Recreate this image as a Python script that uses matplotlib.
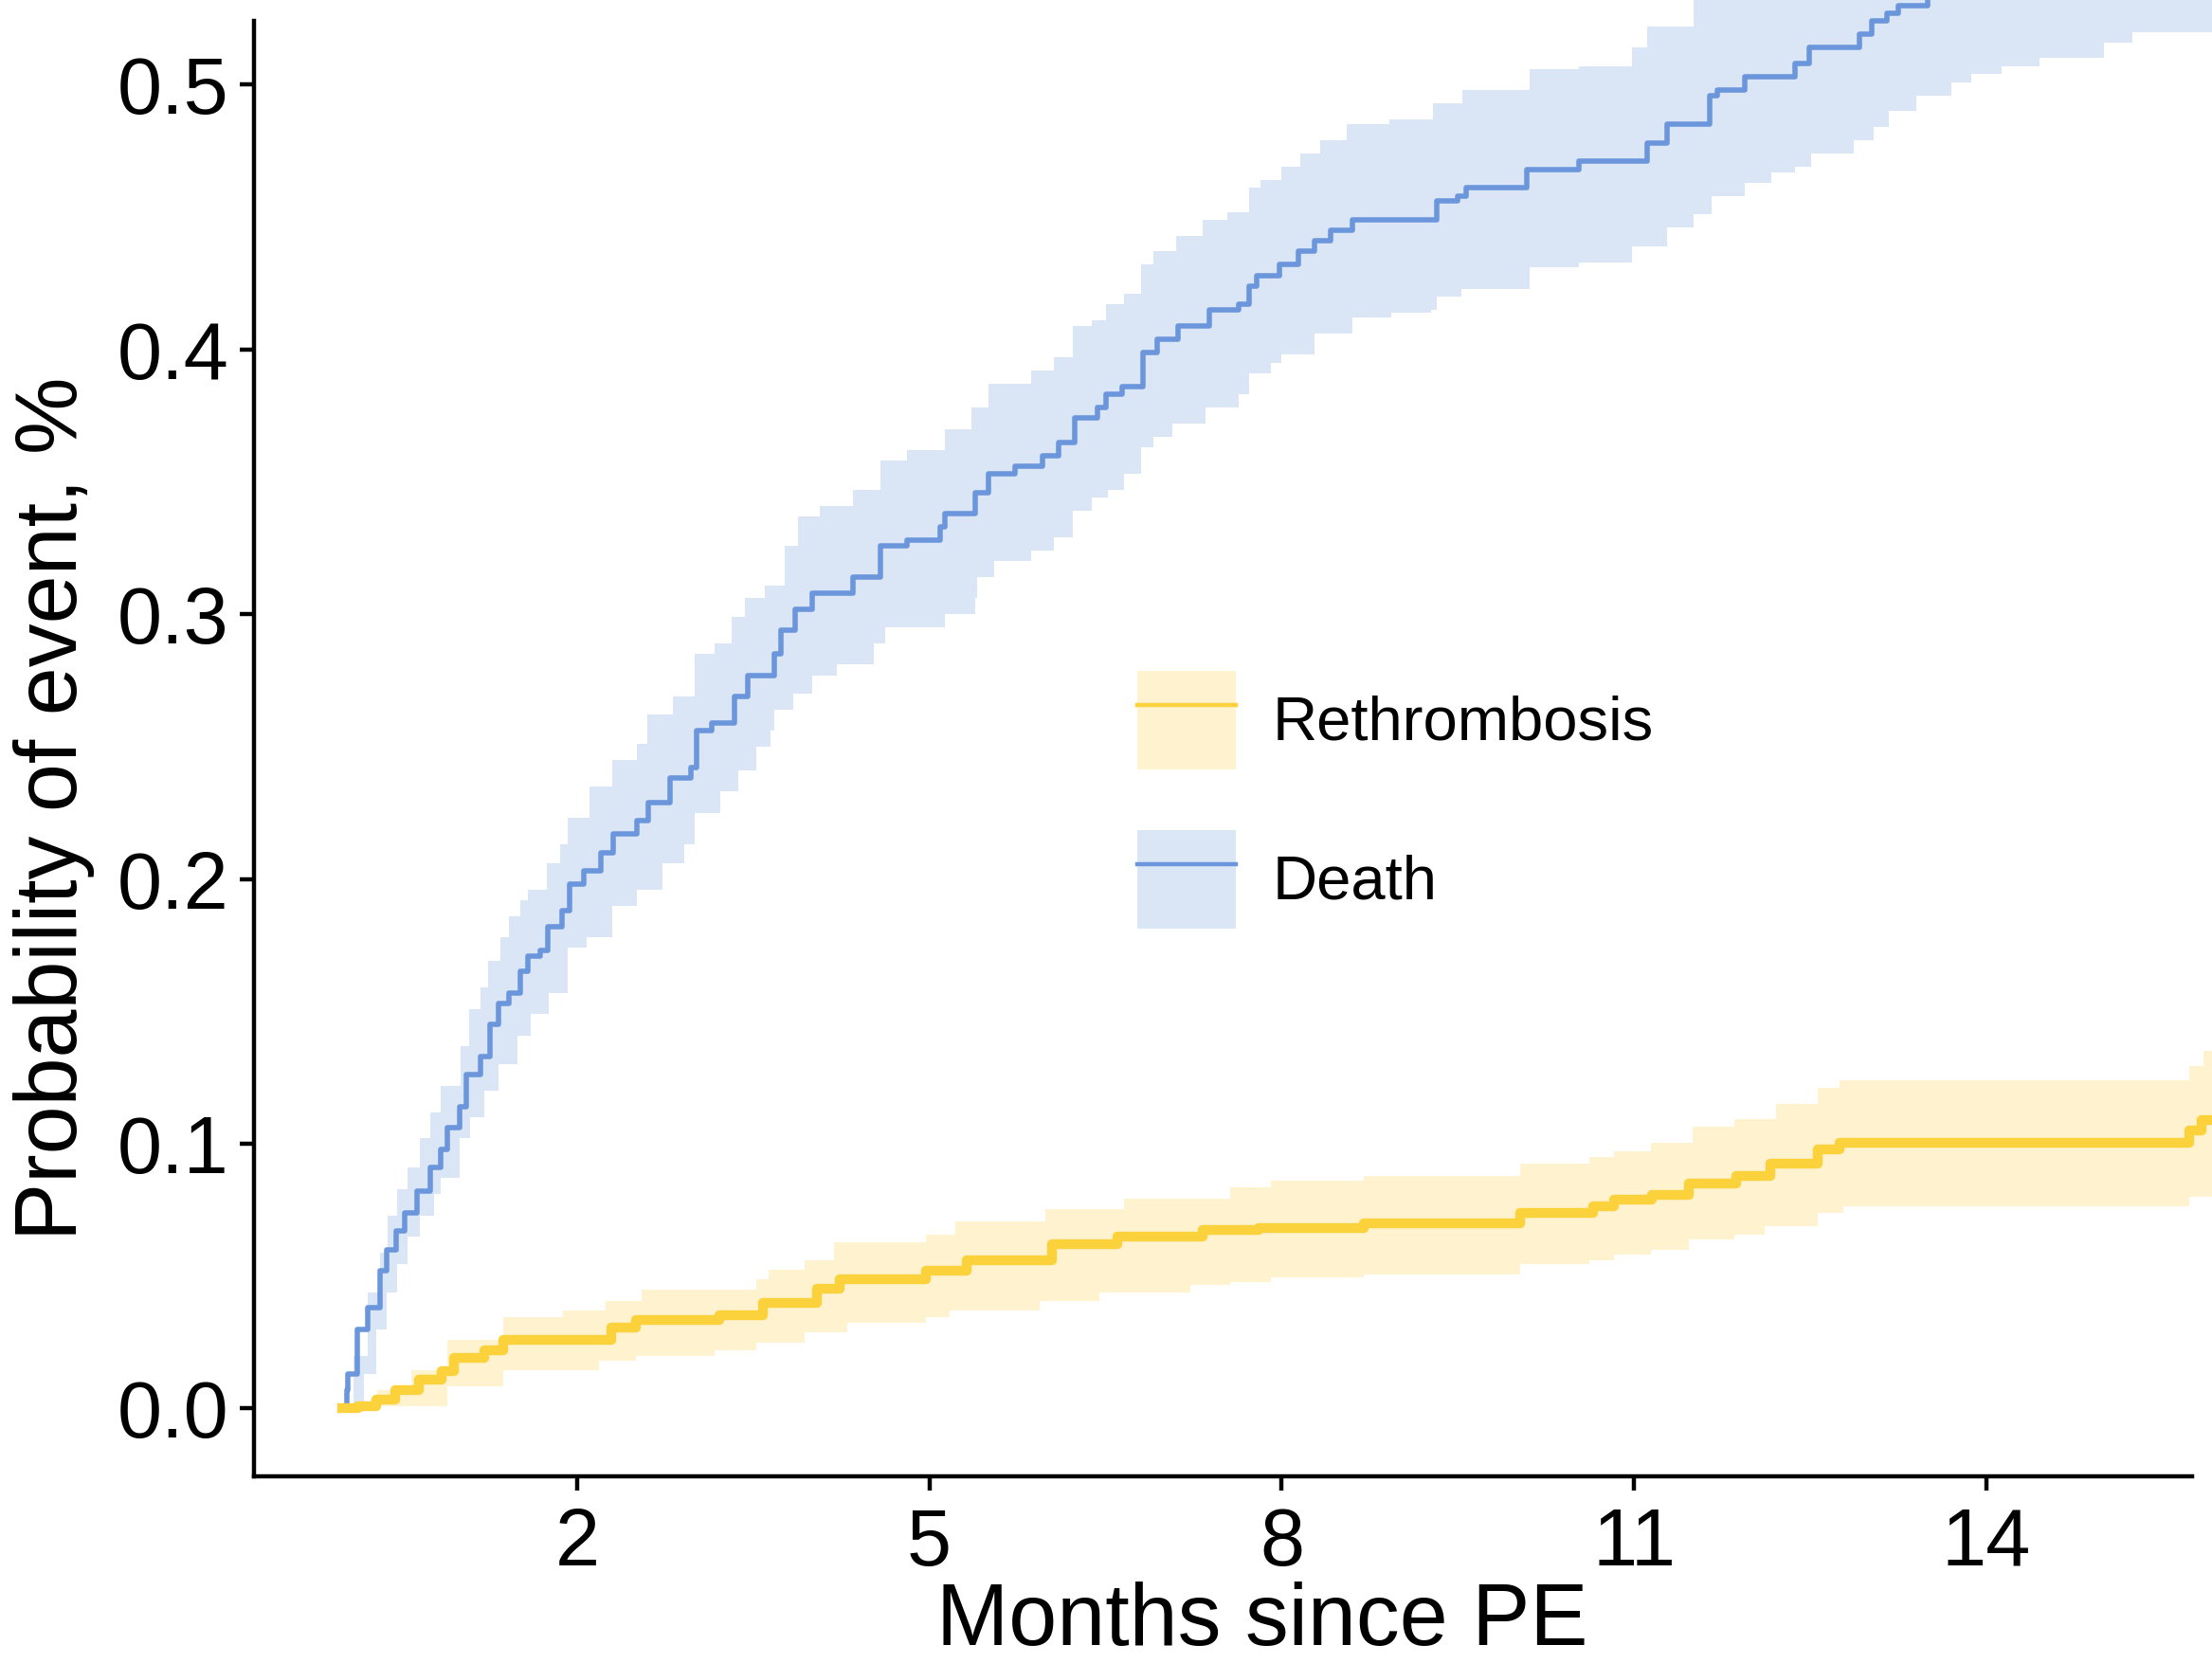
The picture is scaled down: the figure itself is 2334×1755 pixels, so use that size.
import numpy as np
import matplotlib
matplotlib.use("Agg")
import matplotlib.pyplot as plt
from matplotlib.patches import Patch
from matplotlib.lines import Line2D

plt.rcParams['font.family'] = ['Liberation Sans', 'DejaVu Sans']

# ---- data (months since PE, cumulative probability) ----
death_t = [0, 0.04, 0.05, 0.13, 0.22, 0.32, 0.38, 0.46, 0.53, 0.64, 0.75, 0.84, 0.90, 1.00,
           1.06, 1.18, 1.26, 1.33, 1.42, 1.52, 1.58, 1.69, 1.75, 1.87, 1.94, 2.06, 2.20, 2.31,
           2.51, 2.61, 2.79, 2.97, 3.02, 3.15, 3.34, 3.45, 3.68, 3.74, 3.86, 4.00, 4.35, 4.58,
           4.81, 5.09, 5.13, 5.39, 5.50, 5.73, 5.96, 6.10, 6.24, 6.43, 6.50, 6.64, 6.82, 6.94,
           7.12, 7.38, 7.63, 7.72, 7.79, 7.98, 8.14, 8.28, 8.42, 8.60, 9.32, 9.50, 9.57, 10.09,
           10.53, 11.11, 11.28, 11.64, 11.71, 11.94, 12.37, 12.49, 12.92, 13.02, 13.15, 13.25,
           13.5, 14.0, 15.0, 15.95]
death_est = [0, .007, .013, .030, .038, .052, .060, .067, .074, .082, .091, .098, .106, .114,
             .126, .133, .145, .153, .157, .165, .171, .173, .182, .188, .198, .203, .210, .217,
             .222, .229, .238, .242, .256, .259, .269, .277, .285, .294, .302, .308, .314, .326,
             .328, .333, .338, .346, .353, .356, .360, .365, .374, .378, .383, .386, .399, .404,
             .409, .415, .417, .424, .428, .432, .437, .441, .445, .449, .456, .458, .461, .468,
             .471, .478, .485, .496, .498, .503, .508, .514, .519, .524, .527, .530,
             .540, .548, .555, .560]

death_up_t = [0, 0.10, 0.22, 0.32, 0.39, 0.47, 0.56, 0.66, 0.75, 0.84, 1.01, 1.08, 1.18, 1.24,
              1.35, 1.42, 1.52, 1.58, 1.74, 1.86, 1.92, 2.11, 2.30, 2.51, 2.60, 2.82, 3.00, 3.17,
              3.32, 3.43, 3.60, 3.77, 3.88, 4.07, 4.35, 4.58, 4.81, 5.13, 5.36, 5.50, 5.87, 6.06,
              6.22, 6.38, 6.50, 6.66, 6.80, 6.91, 7.10, 7.33, 7.54, 7.72, 7.82, 8.00, 8.16, 8.33,
              8.55, 8.92, 9.29, 9.54, 10.11, 10.53, 10.98, 11.11, 11.51, 12.0, 13.0, 14.0, 15.95]
death_up = [0, .020, .044, .059, .073, .083, .091, .102, .112, .122, .137, .151, .159, .169,
            .178, .186, .192, .196, .206, .213, .223, .235, .245, .251, .262, .269, .285, .289,
            .299, .306, .311, .326, .337, .341, .347, .358, .362, .370, .378, .387, .392, .397,
            .409, .411, .417, .421, .432, .437, .443, .449, .452, .461, .464, .469, .474, .479,
            .485, .487, .493, .498, .506, .507, .514, .522, .540, .550, .565, .575, .580]

death_lo_t = [0, 0.19, 0.29, 0.38, 0.47, 0.56, 0.66, 0.78, 0.84, 1.00, 1.09, 1.21, 1.33, 1.49,
              1.61, 1.76, 1.92, 2.08, 2.30, 2.51, 2.73, 2.91, 3.00, 3.22, 3.37, 3.53, 3.65, 3.68,
              3.84, 4.00, 4.21, 4.53, 4.62, 5.13, 5.39, 5.41, 5.55, 5.87, 6.06, 6.22, 6.38, 6.52,
              6.66, 6.80, 6.91, 7.07, 7.35, 7.63, 7.72, 7.91, 8.00, 8.28, 8.60, 8.93, 9.27, 9.32,
              9.53, 10.11, 10.53, 10.98, 11.28, 11.51, 11.66, 11.94, 12.17, 12.37, 12.51, 12.87,
              13.04, 13.17, 13.40, 13.70, 13.87, 14.13, 14.45, 15.0, 15.24, 15.95]
death_lo = [0, .013, .030, .044, .0545, .065, .073, .081, .087, .102, .110, .120, .130, .141,
            .149, .157, .174, .178, .190, .196, .206, .213, .225, .233, .241, .250, .256, .264,
            .270, .277, .281, .289, .295, .300, .306, .314, .320, .324, .329, .339, .344, .347,
            .353, .363, .367, .372, .378, .383, .391, .395, .398, .406, .412, .414, .415, .420,
            .423, .431, .433, .439, .446, .451, .458, .463, .467, .469, .474, .479,
            .484, .490, .496, .501, .504, .507, .510, .516, .520, .520]

rethr_t = [0, 0.14, 0.29, 0.45, 0.65, 0.85, 0.95, 1.21, 1.37, 2.29, 2.50, 3.21, 3.58, 4.04,
           4.24, 4.97, 5.32, 6.04, 6.60, 7.33, 7.80, 8.70, 10.03, 10.65, 10.83, 11.15, 11.47,
           11.87, 12.16, 12.56, 12.75, 15.73, 15.83, 15.95]
rethr_est = [0, .001, .0035, .007, .011, .014, .019, .022, .026, .0305, .0335, .0353, .040,
             .0454, .049, .052, .056, .062, .065, .0675, .068, .070, .074, .0765, .079, .0806,
             .085, .088, .0925, .098, .1003, .105, .109, .109]

rethr_up_t = [0, 0.30, 0.59, 0.90, 1.37, 1.88, 2.24, 2.55, 3.53, 3.63, 3.94, 4.19, 4.97, 5.22,
              5.99, 6.66, 7.56, 7.91, 8.70, 10.03, 10.62, 10.83, 11.14, 11.50, 11.85, 12.21,
              12.56, 12.75, 15.73, 15.85, 15.95]
rethr_up = [0, .007, .0144, .026, .0347, .037, .0407, .0448, .049, .0526, .056, .0627, .0657,
            .0705, .0752, .0794, .0836, .086, .0878, .0925, .0949, .0973, .1003, .1063, .1092,
            .115, .121, .124, .1295, .135, .135]

rethr_lo_t = [0, 0.30, 0.90, 1.37, 2.19, 2.50, 3.17, 3.53, 3.94, 4.30, 4.97, 5.17, 5.94, 6.45,
              7.22, 7.56, 7.91, 8.70, 10.03, 10.62, 10.83, 11.14, 11.47, 11.85, 12.11, 12.56,
              12.78, 15.73, 15.95]
rethr_lo = [0, .001, .0085, .0144, .018, .020, .022, .025, .0287, .0323, .0347, .037, .0407,
            .0437, .0466, .0479, .0496, .0508, .0544, .056, .058, .060, .064, .0657, .069,
            .074, .0765, .080, .080]

labels = ["Rethrombosis", "Death"]
x_ticks = [2, 5, 8, 11, 14]
y_ticks = [0.0, 0.1, 0.2, 0.3, 0.4, 0.5]


def step_band(ax, t_up, up, t_lo, lo, color):
    # put both step-function bounds on the union of their jump times
    t = np.union1d(t_up, t_lo)
    u = np.asarray(up)[np.searchsorted(t_up, t, side='right') - 1]
    l = np.asarray(lo)[np.searchsorted(t_lo, t, side='right') - 1]
    ax.fill_between(t, l, u, step='post', color=color, lw=0)


# ---- style ----
blue_line = "#6B96DC"
blue_band = "#DAE5F5"
yel_line = "#FBD23C"
yel_band = "#FEF2CF"

W, H = 2334, 1755
fig = plt.figure(figsize=(W / 100, H / 100), dpi=100)
ax = fig.add_axes([268 / W, 1 - 1558 / H, 1 - 268 / W, 1558 / H])

step_band(ax, death_up_t, death_up, death_lo_t, death_lo, blue_band)
step_band(ax, rethr_up_t, rethr_up, rethr_lo_t, rethr_lo, yel_band)
ax.step(death_t, death_est, where='post', color=blue_line, lw=4.0)
ax.step(rethr_t, rethr_est, where='post', color=yel_line, lw=7.5)

ax.set_xlim(-0.75, 15.92)
ax.set_ylim(-0.0256, 0.532)
ax.spines['top'].set_visible(False)
ax.spines['right'].set_visible(False)
for s in ['left', 'bottom']:
    ax.spines[s].set_linewidth(3.2)
ax.spines['left'].set_bounds(-0.0256, 0.524)
ax.spines['bottom'].set_bounds(-0.75, 15.75)

ax.set_xticks(x_ticks)
ax.set_xticklabels([str(v) for v in x_ticks])
ax.set_yticks(y_ticks)
ax.set_yticklabels([f"{v:.1f}" for v in y_ticks])
ax.tick_params(axis='both', length=11, width=3.2, labelsize=61, colors='black')
ax.tick_params(axis='x', pad=12)
ax.tick_params(axis='y', pad=8)

fig.text(1332 / W, 19 / H, "Months since PE", fontsize=66, ha='center', va='baseline')
fig.text(57 / W, 1 - 853 / H, "Probability of event, %", fontsize=66, rotation=90,
         ha='center', va='center')

handles = [(Patch(facecolor=yel_band, edgecolor='none'), Line2D([], [], color=yel_line, lw=3.2)),
           (Patch(facecolor=blue_band, edgecolor='none'), Line2D([], [], color=blue_line, lw=3.2))]
leg = ax.legend(handles, labels, loc='upper left', bbox_to_anchor=(1200 / W, 1 - 708 / H),
                bbox_transform=fig.transFigure, frameon=False, fontsize=47,
                handlelength=1.59, handleheight=2.074, labelspacing=0.98,
                handletextpad=0.6, borderpad=0, borderaxespad=0)

fig.savefig("out.png", dpi=100, facecolor='white')
